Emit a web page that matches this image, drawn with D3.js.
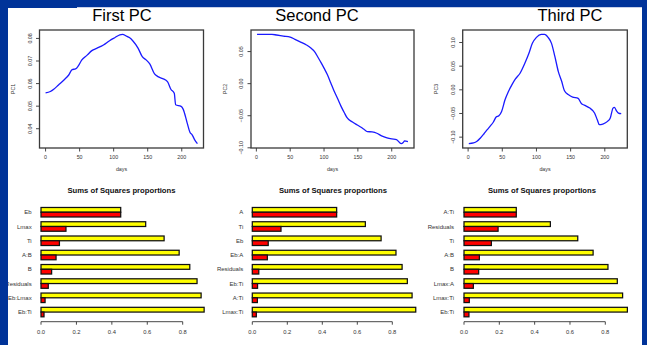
<!DOCTYPE html>
<html>
<head>
<meta charset="utf-8">
<script src="https://cdn.jsdelivr.net/npm/d3@7"></script>
<style>
  body { margin: 0; background: #003399; }
  svg { display: block; }
  text { font-family: "Liberation Sans", Arial, sans-serif; }
</style>
</head>
<body>
<svg id="chart" width="647" height="345"></svg>
<script>
// ---- PC curves (days, loading) ----
const pc1Days = [0,7,12,19,27,34,39,44,48,53,61,68,75,85,94,102,109,113,119,123,128,136,142,148,153,160,165,172,179,184,189,191,199,202,208,212,215,219,223];
const pc1Vals = [0.0559,0.0565,0.0575,0.0594,0.0616,0.0638,0.0662,0.0665,0.0678,0.0704,0.0726,0.0746,0.0756,0.0771,0.0790,0.0804,0.0816,0.0818,0.0810,0.0804,0.0790,0.0756,0.0719,0.0704,0.0687,0.0643,0.0631,0.0622,0.0609,0.0575,0.0557,0.0506,0.0499,0.0487,0.0425,0.0384,0.0374,0.0351,0.0334];

const pc2Days = [1,11,23,30,40,50,57,64,74,81,86,91,96,100,105,110,115,120,125,130,134,142,149,154,159,164,171,178,185,193,200,207,214,217,219,224];
const pc2Vals = [0.0768,0.0768,0.0768,0.0758,0.0742,0.0727,0.0691,0.0655,0.0603,0.0552,0.0500,0.0412,0.0320,0.0242,0.0139,0.0010,-0.0119,-0.0232,-0.0350,-0.0454,-0.0531,-0.0598,-0.0644,-0.0675,-0.0711,-0.0747,-0.0753,-0.0773,-0.0814,-0.0845,-0.0861,-0.0871,-0.0935,-0.0918,-0.0892,-0.0902];

const pc3Days = [1,8,13,18,23,28,32,37,41,45,49,54,59,64,69,76,83,89,94,100,107,112,117,122,127,132,137,141,147,153,161,166,170,178,185,189,192,197,204,208,212,214,217,220,224];
const pc3Vals = [-0.1137,-0.1123,-0.1088,-0.1018,-0.0933,-0.0842,-0.0772,-0.0680,-0.0575,-0.0547,-0.0456,-0.0211,-0.0035,0.0105,0.0225,0.0351,0.0561,0.0772,0.0982,0.1109,0.1172,0.1172,0.1109,0.0982,0.0702,0.0386,0.0175,-0.0021,-0.0105,-0.0154,-0.0182,-0.0295,-0.0323,-0.0386,-0.0491,-0.0632,-0.0737,-0.0723,-0.0667,-0.0596,-0.0386,-0.0372,-0.0442,-0.0491,-0.0505];

const pcTitles = ["First PC", "Second PC", "Third PC"];
const pcLabels = ["PC1", "PC2", "PC3"];
const dayTicks = [0, 50, 100, 150, 200];
const pc1Ticks = [0.04, 0.05, 0.06, 0.07, 0.08];
const pc2Ticks = [-0.10, -0.05, 0.00, 0.05];
const pc3Ticks = [-0.10, -0.05, 0.00, 0.05, 0.10];

// ---- Sums of squares proportions (red = own share, yellow = cumulative) ----
const ss1Terms = ["Eb", "Lmax", "Ti", "A:B", "B", "Residuals", "Eb:Lmax", "Eb:Ti"];
const ss1Prop  = [0.450, 0.141, 0.104, 0.085, 0.060, 0.041, 0.023, 0.017];
const ss1Cum   = [0.450, 0.591, 0.695, 0.780, 0.840, 0.881, 0.904, 0.921];

const ss2Terms = ["A", "Ti", "Eb", "Eb:A", "Residuals", "Eb:Ti", "A:Ti", "Lmax:Ti"];
const ss2Prop  = [0.482, 0.164, 0.091, 0.086, 0.037, 0.030, 0.029, 0.023];
const ss2Cum   = [0.482, 0.646, 0.736, 0.821, 0.856, 0.886, 0.913, 0.934];

const ss3Terms = ["A:Ti", "Residuals", "Ti", "A:B", "B", "Lmax:A", "Lmax:Ti", "Eb:Ti"];
const ss3Prop  = [0.296, 0.193, 0.155, 0.087, 0.083, 0.053, 0.030, 0.028];
const ss3Cum   = [0.296, 0.489, 0.644, 0.731, 0.815, 0.868, 0.898, 0.925];

const barTitle = "Sums of Squares proportions";
const propTicks = [0, 0.2, 0.4, 0.6, 0.8];

const svg = d3.select("#chart");
const fmt2 = d3.format(".2f");
const fmt1 = d3.format(".1f");

// white slide area
svg.append("rect").attr("x", 0).attr("y", 0).attr("width", 647).attr("height", 345).attr("fill", "#003399");
svg.append("rect").attr("x", 8).attr("y", 8).attr("width", 634).attr("height", 337).attr("fill", "#fff");
svg.append("rect").attr("x", 77).attr("y", 7).attr("width", 565).attr("height", 1).attr("fill", "#c8d0e8");

// ---- line panels ----
const linePanels = [
  { days: pc1Days, vals: pc1Vals, ticks: pc1Ticks, left: 39.5, right: 203.5, titleX: 122 },
  { days: pc2Days, vals: pc2Vals, ticks: pc2Ticks, left: 251, right: 414, titleX: 317 },
  { days: pc3Days, vals: pc3Vals, ticks: pc3Ticks, left: 462.7, right: 627.3, titleX: 570 }
];
const boxTop = 30, boxBottom = 148;

// R style axis range: data extent plus 4% each side
function padded(ext) {
  const r = ext[1] - ext[0];
  return [ext[0] - 0.04 * r, ext[1] + 0.04 * r];
}

linePanels.forEach((p, i) => {
  const x = d3.scaleLinear().domain(padded(d3.extent(p.days))).range([p.left, p.right]);
  const y = d3.scaleLinear().domain(padded(d3.extent(p.vals))).range([boxBottom, boxTop]);
  const g = svg.append("g");

  g.append("text")
    .attr("x", p.titleX).attr("y", 20.5)
    .attr("text-anchor", "middle")
    .style("font-size", "16.5px")
    .attr("fill", "#000")
    .text(pcTitles[i]);

  const pts = p.days.map((d, k) => [d, p.vals[k]]);
  g.append("path")
    .datum(pts)
    .attr("fill", "none")
    .attr("stroke", "#1a1aff")
    .attr("stroke-width", 1.3)
    .attr("d", d3.line().x(d => x(d[0])).y(d => y(d[1])).curve(d3.curveMonotoneX));

  g.append("rect")
    .attr("x", p.left).attr("y", boxTop)
    .attr("width", p.right - p.left).attr("height", boxBottom - boxTop)
    .attr("fill", "none").attr("stroke", "#3a3a3a").attr("stroke-width", 1.3);

  // x axis
  g.selectAll(".xt").data(dayTicks).enter().append("line")
    .attr("x1", d => x(d)).attr("x2", d => x(d))
    .attr("y1", boxBottom).attr("y2", boxBottom + 3.5)
    .attr("stroke", "#333").attr("stroke-width", 0.9);
  g.selectAll(".xl").data(dayTicks).enter().append("text")
    .attr("x", d => x(d)).attr("y", 158.5)
    .attr("text-anchor", "middle")
    .style("font-size", "5.3px").attr("fill", "#333")
    .text(d => d);
  g.append("text")
    .attr("x", (p.left + p.right) / 2).attr("y", 171)
    .attr("text-anchor", "middle")
    .style("font-size", "5.3px").attr("fill", "#333")
    .text("days");

  // y axis
  g.selectAll(".yt").data(p.ticks).enter().append("line")
    .attr("x1", p.left - 3.5).attr("x2", p.left)
    .attr("y1", d => y(d)).attr("y2", d => y(d))
    .attr("stroke", "#333").attr("stroke-width", 0.9);
  g.selectAll(".yl").data(p.ticks).enter().append("text")
    .attr("transform", d => `translate(${p.left - 8},${y(d)}) rotate(-90)`)
    .attr("text-anchor", "middle")
    .style("font-size", "5.3px").attr("fill", "#333")
    .text(d => fmt2(d));
  g.append("text")
    .attr("transform", `translate(${p.left - 24.5},${(boxTop + boxBottom) / 2}) rotate(-90)`)
    .attr("text-anchor", "middle")
    .style("font-size", "5.3px").attr("fill", "#333")
    .text(pcLabels[i]);
});

// ---- bar panels ----
const barPanels = [
  { terms: ss1Terms, prop: ss1Prop, cum: ss1Cum, x0: 41, x8: 182.7, labelX: 31.7, titleX: 121.5 },
  { terms: ss2Terms, prop: ss2Prop, cum: ss2Cum, x0: 252.3, x8: 392.3, labelX: 243.3, titleX: 333 },
  { terms: ss3Terms, prop: ss3Prop, cum: ss3Cum, x0: 464, x8: 605.3, labelX: 454, titleX: 542 }
];

barPanels.forEach(p => {
  const x = d3.scaleLinear().domain([0, 0.8]).range([p.x0, p.x8]);
  const y = d3.scaleBand().domain(p.terms).range([205.1, 319.2]).paddingInner(1 / 3).paddingOuter(1 / 6);
  const h = y.bandwidth() / 2;
  const g = svg.append("g");

  g.append("text")
    .attr("x", p.titleX).attr("y", 193.4)
    .attr("text-anchor", "middle")
    .style("font-size", "7.7px").style("font-weight", "bold")
    .attr("fill", "#111")
    .text(barTitle);

  g.selectAll(".cum").data(p.terms).enter().append("rect")
    .attr("x", x(0)).attr("y", d => y(d))
    .attr("width", (d, k) => x(p.cum[k]) - x(0)).attr("height", h)
    .attr("fill", "#ffff00").attr("stroke", "#111").attr("stroke-width", 1.25);
  g.selectAll(".own").data(p.terms).enter().append("rect")
    .attr("x", x(0)).attr("y", d => y(d) + h)
    .attr("width", (d, k) => x(p.prop[k]) - x(0)).attr("height", h)
    .attr("fill", "#ff0000").attr("stroke", "#111").attr("stroke-width", 1.25);

  g.selectAll(".lab").data(p.terms).enter().append("text")
    .attr("x", p.labelX).attr("y", d => y(d) + h + 2.1)
    .attr("text-anchor", "end")
    .style("font-size", "6px").attr("fill", "#333")
    .text(d => d);

  g.append("line")
    .attr("x1", x(0)).attr("x2", x(0.8))
    .attr("y1", 321.7).attr("y2", 321.7)
    .attr("stroke", "#333").attr("stroke-width", 0.9);
  g.selectAll(".bt").data(propTicks).enter().append("line")
    .attr("x1", d => x(d)).attr("x2", d => x(d))
    .attr("y1", 321.7).attr("y2", 324.7)
    .attr("stroke", "#333").attr("stroke-width", 0.9);
  g.selectAll(".bl").data(propTicks).enter().append("text")
    .attr("x", d => x(d)).attr("y", 333.5)
    .attr("text-anchor", "middle")
    .style("font-size", "5.8px").attr("fill", "#333")
    .text(d => fmt1(d));
});

// blue slide frame drawn over the edges
svg.append("rect").attr("x", 0).attr("y", 0).attr("width", 8).attr("height", 345).attr("fill", "#003399");
svg.append("rect").attr("x", 642).attr("y", 0).attr("width", 5).attr("height", 345).attr("fill", "#003399");
svg.append("rect").attr("x", 0).attr("y", 0).attr("width", 77).attr("height", 8).attr("fill", "#003399");
svg.append("rect").attr("x", 77).attr("y", 0).attr("width", 570).attr("height", 7).attr("fill", "#003399");
</script>
</body>
</html>
